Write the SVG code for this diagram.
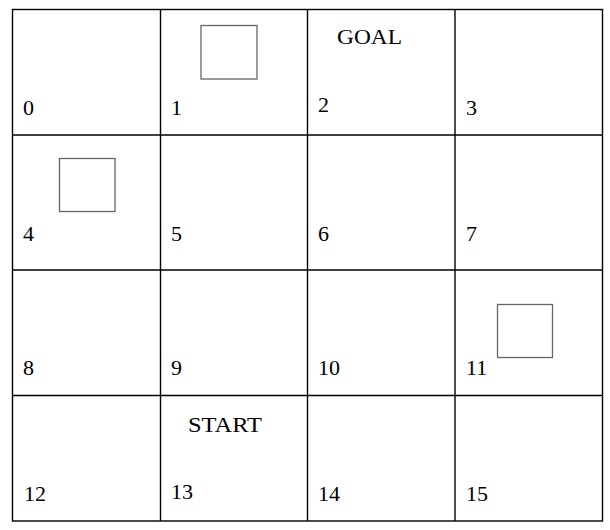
<svg xmlns="http://www.w3.org/2000/svg" width="610" height="530" viewBox="0 0 610 530">
<style>
.cell{fill:#fff;stroke:#000;stroke-width:1.4}
.box{fill:#fff;stroke:#666;stroke-width:1.3}
text{font-family:"Liberation Serif","Times New Roman",serif;font-size:22px;fill:#000}
</style>
<rect width="610" height="530" fill="#fff"/>
<g id="grid">
<rect class="cell" x="12.5" y="9.5" width="590" height="511.5"/>
<line class="cell" x1="160.5" y1="9.5" x2="160.5" y2="521"/>
<line class="cell" x1="307.5" y1="9.5" x2="307.5" y2="521"/>
<line class="cell" x1="455" y1="9.5" x2="455" y2="521"/>
<line class="cell" x1="12.5" y1="135" x2="602.5" y2="135"/>
<line class="cell" x1="12.5" y1="270" x2="602.5" y2="270"/>
<line class="cell" x1="12.5" y1="395.5" x2="602.5" y2="395.5"/>
</g>
<g id="obstacles">
<rect class="box" x="201" y="25.5" width="56" height="53.5"/>
<rect class="box" x="59.5" y="158.5" width="55.5" height="53"/>
<rect class="box" x="497.5" y="304.5" width="55" height="53"/>
</g>
<g id="labels">
<text x="23" y="115">0</text>
<text x="171" y="115">1</text>
<text x="318" y="112">2</text>
<text x="466" y="115">3</text>
<text x="23" y="241">4</text>
<text x="171" y="241">5</text>
<text x="318" y="241">6</text>
<text x="466" y="241">7</text>
<text x="23" y="375">8</text>
<text x="171" y="375">9</text>
<text x="318" y="375">10</text>
<text x="466" y="375">11</text>
<text x="24" y="501">12</text>
<text x="171" y="499">13</text>
<text x="318" y="501">14</text>
<text x="466" y="501">15</text>
<text x="337" y="44" textLength="65" lengthAdjust="spacingAndGlyphs">GOAL</text>
<text x="188" y="432" textLength="74" lengthAdjust="spacingAndGlyphs">START</text>
</g>
</svg>
